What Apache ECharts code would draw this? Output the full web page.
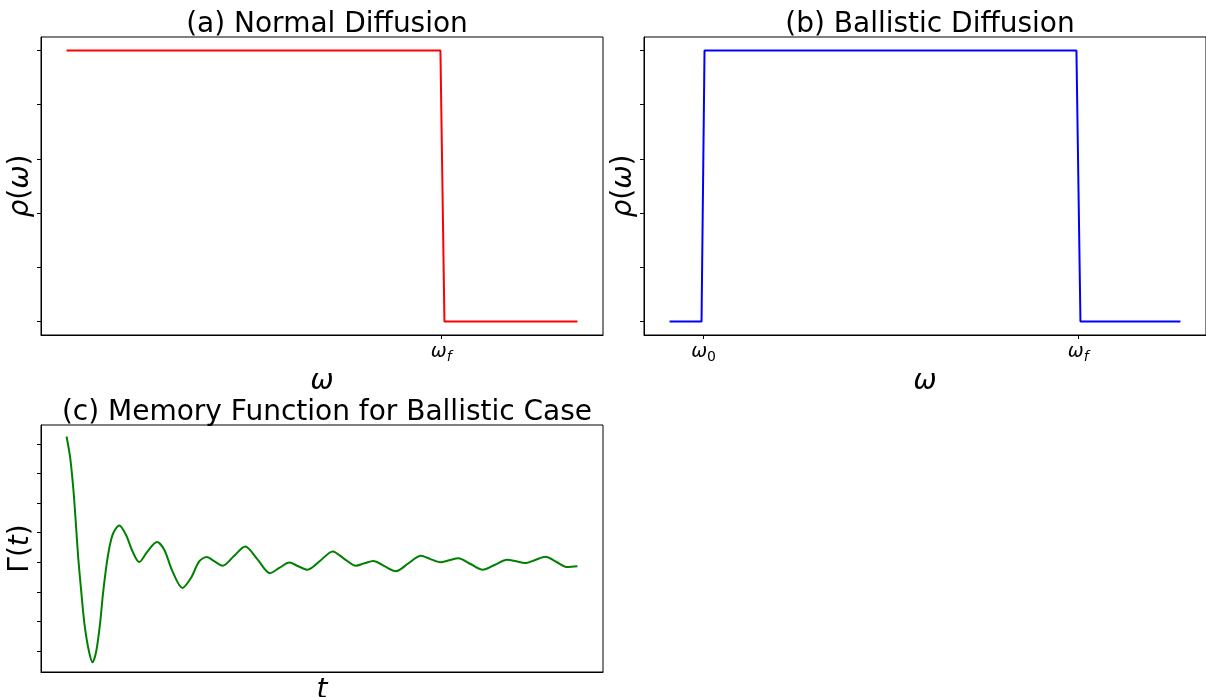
<!DOCTYPE html>
<html>
<head>
<meta charset="utf-8">
<script src="https://cdn.jsdelivr.net/npm/echarts@6/dist/echarts.min.js"></script>
<style>
html,body{margin:0;padding:0;background:#fff;}
#chart{width:1206px;height:697px;}
</style>
</head>
<body>
<div id="chart"></div>
<script>
// ---- data ----
const omegaA = [0, 1.0977, 1.1095, 1.5];
const rhoA   = [1, 1, 0, 0];
const omegaB = [0, 0.0939, 0.1027, 1.1946, 1.2064, 1.5];
const rhoB   = [0, 0, 1, 1, 0, 0];
const tC = [0,0.362,0.685,0.920,1.145,1.438,1.761,2.192,2.544,2.906,3.268,3.591,4.012,4.501,5.157,5.812,6.458,7.114,7.926,8.845,9.560,10.372,11.350,12.172,12.984,13.718,14.452,15.264,16.360,17.485,18.708,19.902,20.861,21.791,22.671,23.581,24.824,26.047,27.172,28.317,29.159,30.010,31.115,32.231,33.454,34.677,35.617,36.566,37.446,38.327,39.530,40.724,41.927,43.121,44.002,44.883,45.861,46.869,47.916,48.992,50];
const gammaC = [1.049,0.903,0.678,0.454,0.229,0.004,-0.220,-0.400,-0.474,-0.400,-0.220,0.004,0.229,0.386,0.449,0.386,0.274,0.202,0.274,0.337,0.285,0.139,0.027,0.094,0.206,0.236,0.208,0.177,0.241,0.307,0.218,0.127,0.164,0.199,0.174,0.150,0.211,0.274,0.224,0.177,0.194,0.209,0.174,0.140,0.193,0.245,0.222,0.201,0.214,0.228,0.189,0.150,0.184,0.218,0.207,0.195,0.216,0.238,0.204,0.168,0.173];
const rhoTicks = [0, 0.2, 0.4, 0.6, 0.8, 1.0];
const gammaTicks = [-0.4, -0.2, 0, 0.2, 0.4, 0.6, 0.8, 1.0];
const xTicksA = [1.1];
const xTickLabelsA = ['{i|ω}{s|f}'];
const xTicksB = [0.1, 1.2];
const xTickLabelsB = ['{i|ω}{u|0}', '{i|ω}{s|f}'];
const titles = ['(a) Normal Diffusion', '(b) Ballistic Diffusion', '(c) Memory Function for Ballistic Case'];
const xNames = ['{it|ω}', '{it|ω}', '{it|t}'];
const yNames = ['{it|ρ}{n|(}{it|ω}{n|)}', '{it|ρ}{n|(}{it|ω}{n|)}', '{n|Γ(}{it|t}{n|)}'];

const FONT = 'DejaVu Sans';
const rich = {
  i: {fontFamily: FONT, fontSize: 19, fontStyle: 'italic', color: '#000', lineHeight: 24, verticalAlign: 'top'},
  s: {fontFamily: FONT, fontSize: 14, fontStyle: 'italic', color: '#000', lineHeight: 14, verticalAlign: 'bottom', padding: [0, 0, 3, 0]},
  u: {fontFamily: FONT, fontSize: 14, color: '#000', lineHeight: 14, verticalAlign: 'bottom', padding: [0, 0, 3, 0]}
};
const nameRich = {
  it: {fontFamily: FONT, fontSize: 28, fontStyle: 'italic', color: '#000'},
  n: {fontFamily: FONT, fontSize: 28, color: '#000'}
};

function xAxisDef(idx, min, max, ticks, labels, name, nameGap) {
  return {
    type: 'value', gridIndex: idx, min: min, max: max,
    axisLine: {show: true, onZero: false, lineStyle: {color: '#000', width: 1}},
    axisTick: {show: ticks.length > 0, customValues: ticks, length: 4, lineStyle: {color: '#000'}},
    axisLabel: {show: ticks.length > 0, customValues: ticks, margin: 8, rich: rich,
      formatter: v => { const k = ticks.findIndex(t => Math.abs(t - v) < 1e-9); return k >= 0 ? labels[k] : ''; }},
    splitLine: {show: false},
    name: name, nameLocation: 'middle', nameGap: nameGap,
    nameTextStyle: {fontFamily: FONT, fontSize: 28, color: '#000', rich: nameRich}
  };
}
function yAxisDef(idx, min, max, ticks, name) {
  return {
    type: 'value', gridIndex: idx, min: min, max: max,
    axisLine: {show: true, onZero: false, lineStyle: {color: '#000', width: 1}},
    axisTick: {show: true, customValues: ticks, length: 4, lineStyle: {color: '#000'}},
    axisLabel: {show: false},
    splitLine: {show: false},
    name: name, nameLocation: 'middle', nameGap: 6, nameRotate: 90,
    nameTextStyle: {fontFamily: FONT, fontSize: 28, color: '#000', rich: nameRich}
  };
}
const titleStyle = {fontFamily: FONT, fontSize: 28, fontWeight: 'normal', color: '#000'};
const gridBase = {show: true, borderColor: '#000', borderWidth: 1, containLabel: false, outerBoundsMode: 'none'};

const chart = echarts.init(document.getElementById('chart'), null, {renderer: 'canvas'});
chart.setOption({
  backgroundColor: '#fff',
  animation: false,
  title: [
    {text: titles[0], left: 322, top: 6, textAlign: 'center', textStyle: titleStyle},
    {text: titles[1], left: 925, top: 6, textAlign: 'center', textStyle: titleStyle},
    {text: titles[2], left: 322, top: 394, textAlign: 'center', textStyle: titleStyle}
  ],
  grid: [
    Object.assign({left: 41, top: 37, width: 562, height: 298}, gridBase),
    Object.assign({left: 644, top: 37, width: 562, height: 298}, gridBase),
    Object.assign({left: 41, top: 425, width: 562, height: 247}, gridBase)
  ],
  xAxis: [
    xAxisDef(0, -0.075, 1.575, xTicksA, xTickLabelsA, xNames[0], 26),
    xAxisDef(1, -0.075, 1.575, xTicksB, xTickLabelsB, xNames[1], 26),
    xAxisDef(2, -2.5, 52.5, [], [], xNames[2], 5)
  ],
  yAxis: [
    yAxisDef(0, -0.05, 1.05, rhoTicks, yNames[0]),
    yAxisDef(1, -0.05, 1.05, rhoTicks, yNames[1]),
    yAxisDef(2, -0.54, 1.127, gammaTicks, yNames[2])
  ],
  series: [
    {type: 'line', xAxisIndex: 0, yAxisIndex: 0, showSymbol: false, lineStyle: {color: '#ff0000', width: 2}, itemStyle: {color: '#ff0000'},
      data: omegaA.map((x, i) => [x, rhoA[i]])},
    {type: 'line', xAxisIndex: 1, yAxisIndex: 1, showSymbol: false, lineStyle: {color: '#0000ff', width: 2}, itemStyle: {color: '#0000ff'},
      data: omegaB.map((x, i) => [x, rhoB[i]])},
    {type: 'line', xAxisIndex: 2, yAxisIndex: 2, showSymbol: false, smooth: 0.3, lineStyle: {color: '#008000', width: 2}, itemStyle: {color: '#008000'},
      data: tC.map((x, i) => [x, gammaC[i]])}
  ]
});
</script>
</body>
</html>
